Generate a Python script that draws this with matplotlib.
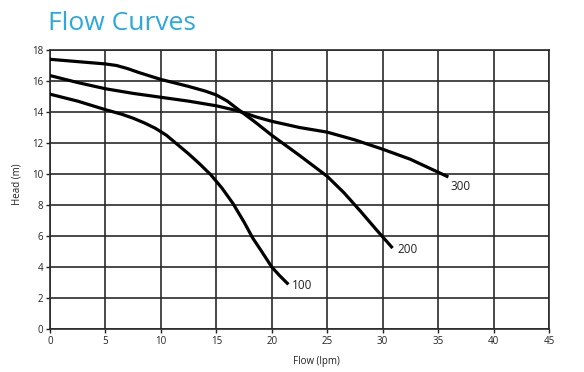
import matplotlib.pyplot as plt

# flow (lpm) vs head (m)
flow_100 = [0, 2.5, 5, 6.5, 7.5, 8.5, 9.5, 10.5, 11.5, 12.5, 13.5, 14.5, 15.5, 16.5, 17.5, 18.3, 19, 20, 20.7, 21.4]
head_100 = [15.15, 14.7, 14.15, 13.85, 13.6, 13.3, 12.95, 12.5, 11.9, 11.3, 10.65, 9.95, 9.1, 8.1, 6.9, 5.85, 5.1, 4.0, 3.45, 2.95]

flow_200 = [0, 2.5, 5, 6, 7, 8, 10, 12.5, 14, 15, 16, 17, 18.5, 20, 22.5, 25, 26.5, 28, 29.5, 30.8]
head_200 = [17.4, 17.25, 17.1, 17.0, 16.8, 16.55, 16.1, 15.65, 15.35, 15.1, 14.7, 14.15, 13.35, 12.5, 11.2, 9.85, 8.8, 7.6, 6.35, 5.3]

flow_300 = [0, 2.5, 5, 7.5, 10, 12.5, 15, 16.5, 17.5, 18.5, 20, 22.5, 25, 27.5, 30, 32.5, 35.8]
head_300 = [16.35, 15.9, 15.5, 15.2, 14.95, 14.7, 14.4, 14.15, 13.95, 13.7, 13.4, 13.0, 12.7, 12.2, 11.6, 10.95, 9.85]

curves = [("100", flow_100, head_100, (0.4, -0.15)),
          ("200", flow_200, head_200, (0.5, -0.2)),
          ("300", flow_300, head_300, (0.3, -0.65))]

plt.rcParams['font.family'] = ['Open Sans', 'DejaVu Sans']

fig = plt.figure(figsize=(5.84, 3.72), dpi=100)
ax = fig.add_axes([0.0856, 0.1156, 0.8544, 0.75])

for name, x, y, off in curves:
    ax.plot(x, y, color='black', lw=2.3, solid_joinstyle='round', zorder=3)
    ax.text(x[-1] + off[0], y[-1] + off[1], name, fontsize=8.5, color='#222222',
            ha='left', va='center')

ax.set_xlim(0, 45)
ax.set_ylim(0, 18)
ax.set_xticks(range(0, 46, 5))
ax.set_yticks(range(0, 19, 2))
ax.grid(True, color='#2a2a2a', lw=1.2)
for s in ax.spines.values():
    s.set_color('#2a2a2a')
    s.set_linewidth(1.2)
ax.tick_params(labelsize=7, colors='#222222', length=3, width=1, pad=2)
ax.set_xlabel('Flow (lpm)', fontsize=7, color='#222222')
ax.xaxis.set_label_coords(0.533, -0.095)
ax.set_ylabel('Head (m)', fontsize=7, color='#222222')
ax.yaxis.set_label_coords(-0.055, 0.52)

fig.text(0.083, 0.92, 'Flow Curves', fontsize=19, color='#2AA8DF',
         ha='left', va='baseline')

fig.savefig('out.png', dpi=100)
